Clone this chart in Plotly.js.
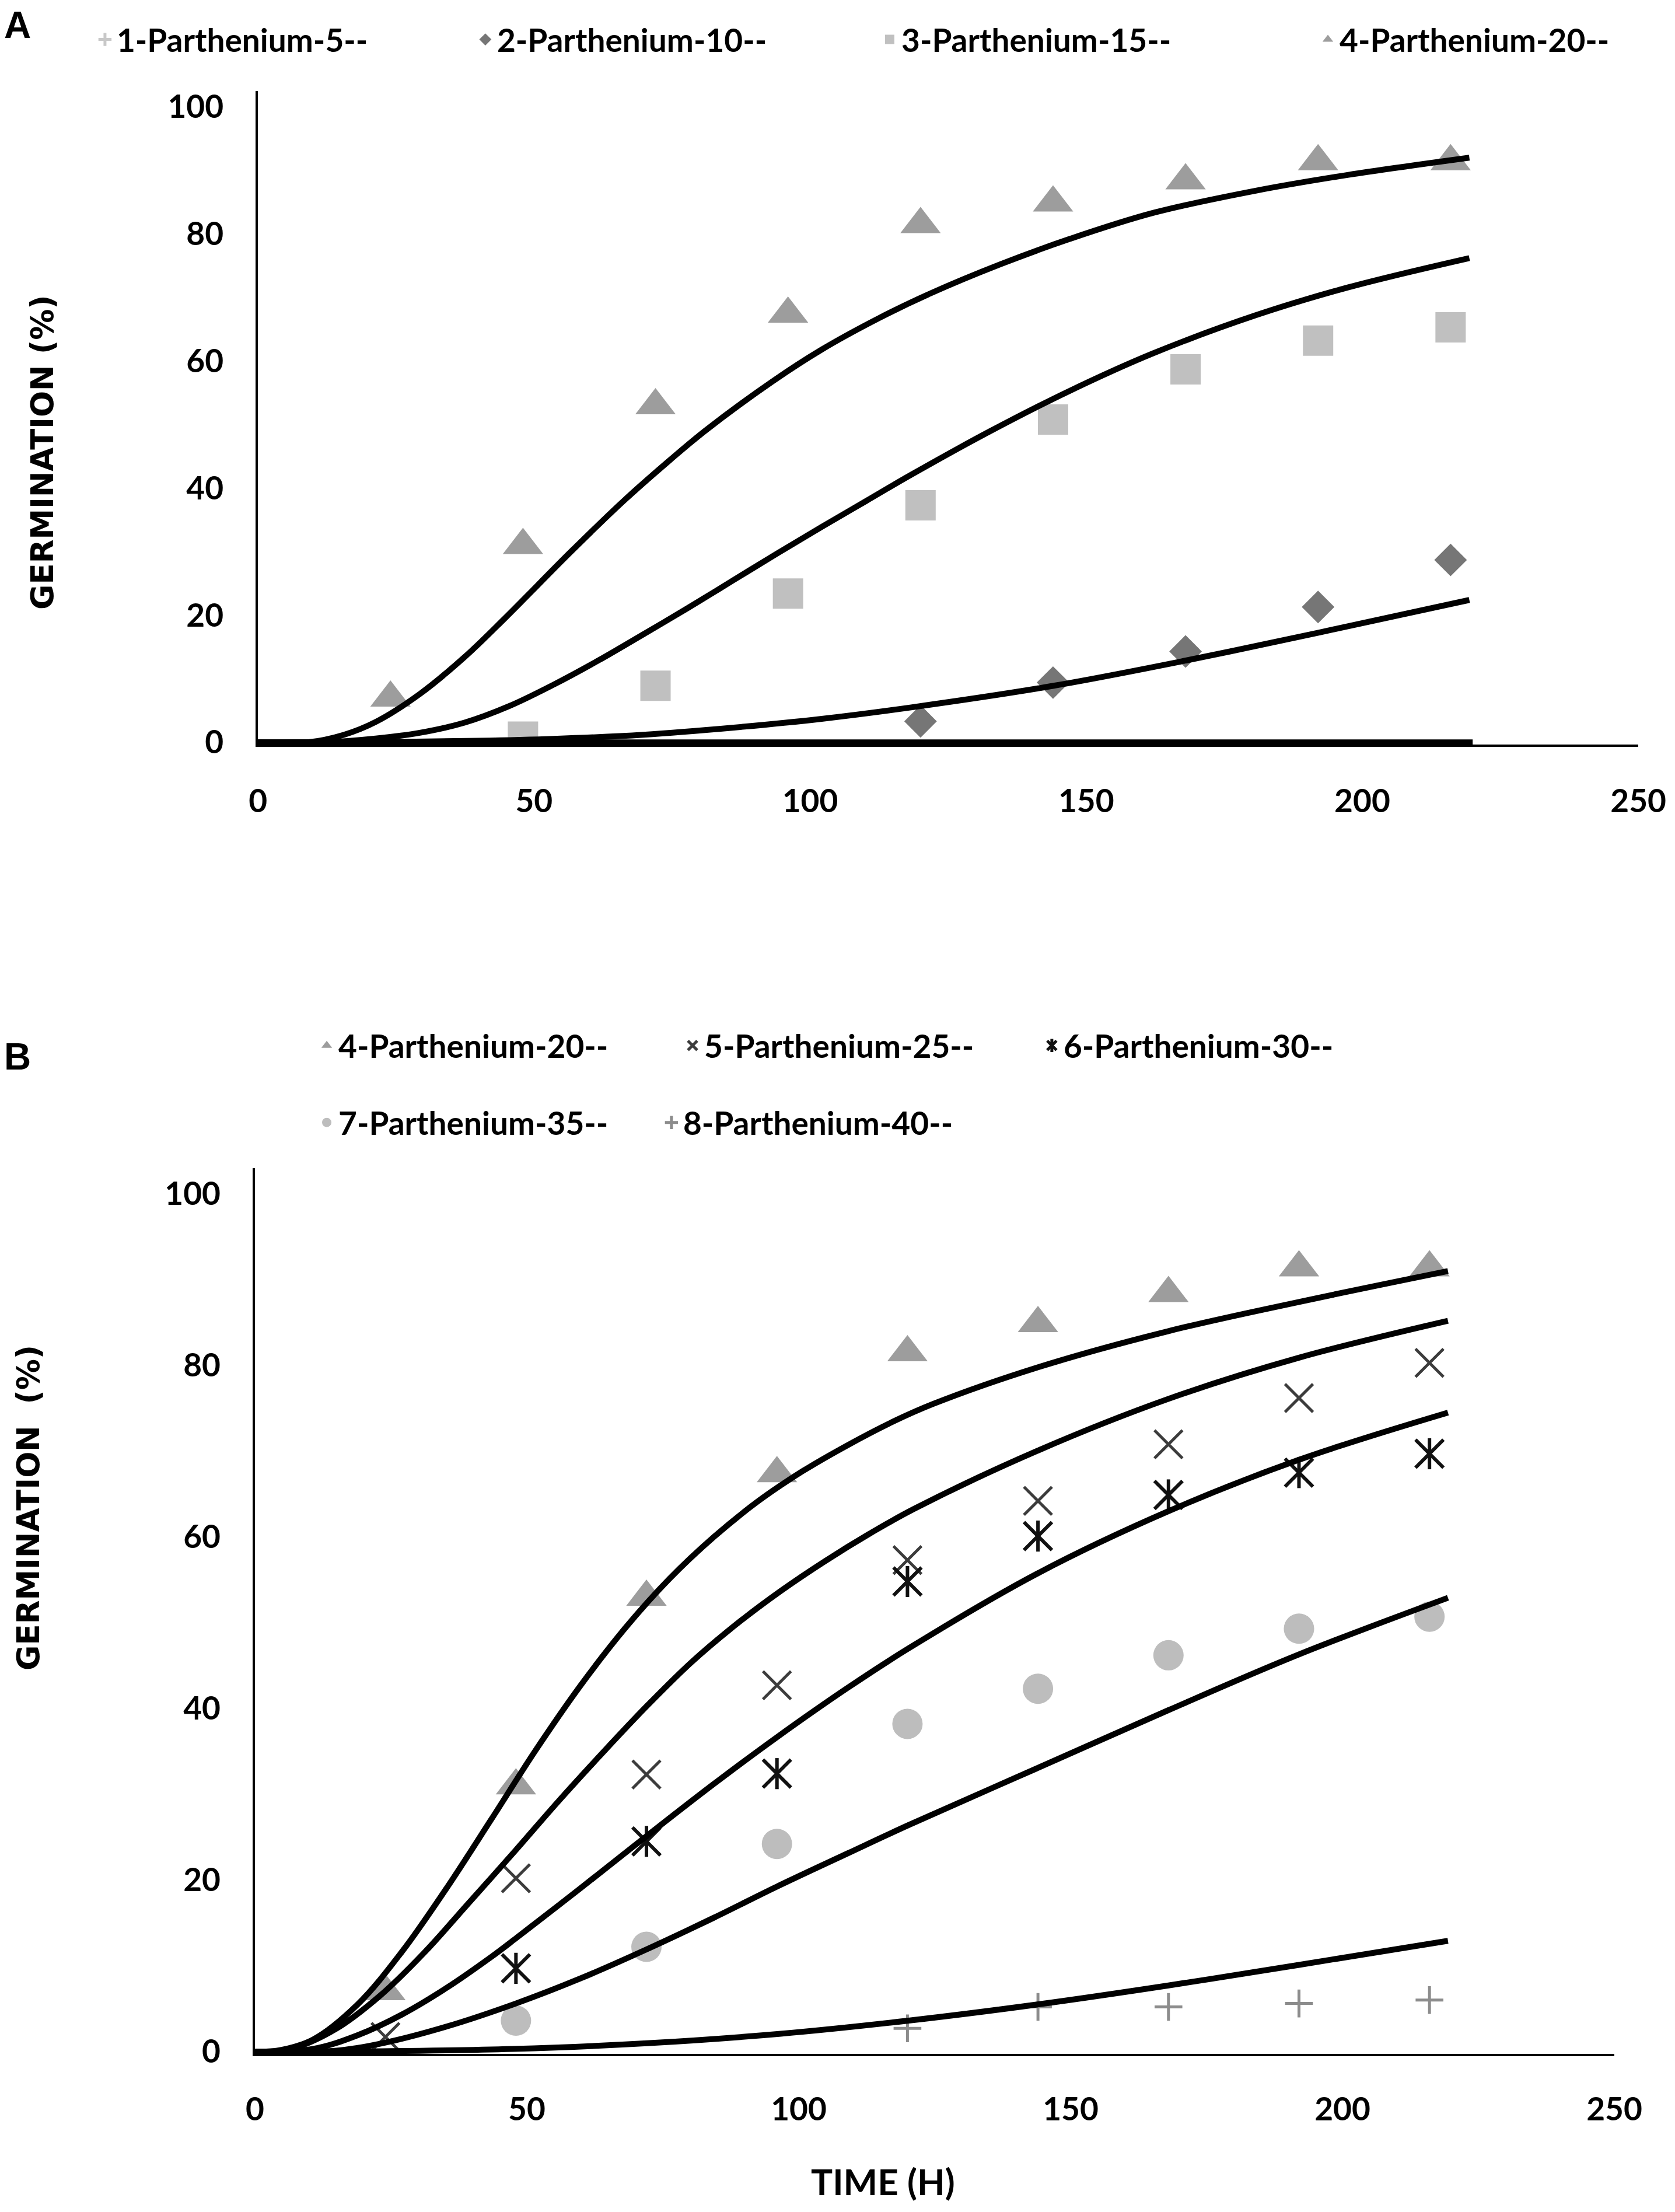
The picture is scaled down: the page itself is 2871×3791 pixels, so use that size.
<!DOCTYPE html>
<html>
<head>
<meta charset="utf-8">
<script src="https://cdn.plot.ly/plotly-3.0.1.min.js"></script>
<style>
  html, body { margin: 0; padding: 0; background: #fff; }
  #chart { width: 2871px; height: 3791px; }
</style>
</head>
<body>
<div id="chart"></div>
<script>
// sampling times (h)
var hours = [24, 48, 72, 96, 120, 144, 168, 192, 216];

// observed germination (%) -- panel A
// 5 % series has no visible points, only its legend entry
var p5Time = [null];
var p5Germ = [null];
var p10Time = [120, 144, 168, 192, 216];
var p10Germ = [3.3, 9.4, 14.3, 21.3, 28.7];
var p15Time = [48, 72, 96, 120, 144, 168, 192, 216];
var p15Germ = [0.9, 8.9, 23.4, 37.3, 50.8, 58.7, 63.2, 65.3];
var p20Germ = [7.0, 31.0, 53.0, 67.4, 81.5, 84.9, 88.4, 91.4, 91.4];

// observed germination (%) -- panel B
var p25Germ = [1.7, 20.2, 32.3, 42.7, 57.3, 64.2, 70.8, 76.2, 80.3];
var p30Time = [48, 72, 96, 120, 144, 168, 192, 216];
var p30Germ = [9.7, 24.5, 32.4, 54.8, 60.1, 64.9, 67.5, 69.7];
var p35Time = [48, 72, 96, 120, 144, 168, 192, 216];
var p35Germ = [3.6, 12.2, 24.2, 38.2, 42.3, 46.2, 49.3, 50.7];
var p40Time = [120, 144, 168, 192, 216];
var p40Germ = [2.7, 5.2, 5.2, 5.6, 6.0];

// fitted curves (time, %)
var fitA1x = [0, 220];
var fitA1y = [0, 0];
var fitA2x = [0, 20, 40, 53.6, 69.8, 85.9, 102.1, 118.3, 144.1, 168.2, 192.3, 219.4];
var fitA2y = [0, 0.05, 0.25, 0.55, 1.2, 2.3, 3.7, 5.5, 8.9, 12.9, 17.3, 22.4];
var fitA3x = [0, 12, 21.3, 29.3, 37.4, 45.5, 53.6, 61.7, 69.8, 77.8, 85.9, 94.0, 102.1, 110.2, 118.3, 132.7, 147, 162.1, 180.7, 197.5, 219.4];
var fitA3y = [0, 0, 0.6, 1.5, 3.1, 5.7, 9.1, 12.9, 17.0, 21.1, 25.4, 29.7, 33.9, 38.0, 42.1, 49.0, 55.3, 61.2, 67.2, 71.6, 76.2];
var fitA4x = [0, 9, 15.6, 21.3, 29.3, 37.4, 44.7, 56.8, 66.5, 74.6, 81.1, 93.2, 102.1, 112.6, 121.7, 134.4, 147, 162.1, 180.7, 197.5, 219.4];
var fitA4y = [0, 0, 1.2, 3.2, 7.6, 13.4, 19.5, 30.1, 38.2, 44.4, 49.1, 56.8, 61.8, 66.8, 70.6, 75.2, 79.2, 83.3, 86.8, 89.3, 92.0];

var fitB4x = [0, 4.1, 10.7, 18.9, 27.0, 35.2, 43.4, 51.6, 59.8, 68.0, 76.2, 84.4, 92.6, 100.8, 109.0, 117.2, 124.7, 144.1, 168.0, 192.0, 219.4];
var fitB4y = [0, 0.1, 1.4, 5.5, 11.6, 19.0, 27.0, 35.1, 42.6, 49.3, 55.1, 60.0, 64.2, 67.7, 70.7, 73.4, 75.5, 79.8, 84.0, 87.4, 91.0];
var fitB5x = [0, 6.6, 14.8, 23.0, 31.1, 39.3, 48.0, 55.7, 63.9, 72.1, 80.3, 88.5, 96.7, 104.9, 113.1, 121.3, 144.1, 168.0, 192.0, 219.4];
var fitB5y = [0, 0.3, 2.6, 6.5, 11.5, 17.3, 23.5, 29.1, 34.8, 40.3, 45.4, 49.8, 53.7, 57.2, 60.4, 63.3, 70.1, 76.1, 80.9, 85.2];
var fitB6x = [0, 10.7, 18.9, 27.0, 35.2, 43.4, 48.0, 59.8, 72.0, 84.4, 95.9, 109.0, 120.2, 144.1, 168.0, 192.0, 219.4];
var fitB6y = [0, 0.3, 1.9, 4.3, 7.4, 11.0, 13.2, 19.0, 25.1, 31.2, 36.6, 42.4, 47.0, 55.8, 63.0, 69.0, 74.5];
var fitB7x = [0, 15, 23.0, 35.2, 48.0, 59.8, 72.0, 84.4, 95.9, 109.0, 120.2, 144.1, 168.0, 192.0, 219.4];
var fitB7y = [0, 0.1, 0.9, 2.9, 5.6, 8.5, 11.9, 15.6, 19.2, 23.1, 26.4, 33.1, 39.8, 46.3, 52.9];
var fitB8x = [0, 25, 47.5, 72.1, 96.7, 120.2, 144.1, 168.0, 192.0, 219.4];
var fitB8y = [0, 0.05, 0.3, 0.96, 2.07, 3.6, 5.5, 7.7, 10.1, 12.9];

var font = 'Lato, "Liberation Sans", Arial, sans-serif';
var wideFont = '"DejaVu Sans", Verdana, sans-serif';

// marker trace helper
function pts(x, y, name, xa, ya, leg, marker) {
  return {
    x: x, y: y, name: name, type: 'scatter', mode: 'markers',
    xaxis: xa, yaxis: ya, legend: leg, marker: marker,
    hoverinfo: 'x+y+name'
  };
}
// fitted curve helper
function fit(x, y, xa, ya) {
  return {
    x: x, y: y, type: 'scatter', mode: 'lines', showlegend: false,
    xaxis: xa, yaxis: ya, hoverinfo: 'skip',
    line: {color: '#000', width: 10, shape: 'spline', smoothing: 1}
  };
}

var tri = {symbol: 'triangle-up', size: 60, color: '#9d9d9d'};
var sqr = {symbol: 'square', size: 52, color: '#c0c0c0'};
var dia = {symbol: 'diamond', size: 43, color: '#767676'};
var plusA = {symbol: 'cross-thin-open', size: 34, color: '#c8c8c8', line: {width: 5}};
var xm = {symbol: 'x-thin-open', size: 48, color: '#3c3c3c', line: {width: 5}};
var starX = {symbol: 'x-thin-open', size: 48, color: '#111111', line: {width: 6}};
var starBar = {symbol: 'line-ns-open', size: 38, color: '#111111', line: {width: 6}};
var circ = {symbol: 'circle', size: 52, color: '#bdbdbd'};
var plusB = {symbol: 'cross-thin-open', size: 34, color: '#8c8c8c', line: {width: 5}};

var data = [
  pts(p5Time, p5Germ, '1-Parthenium-5--', 'x', 'y', 'legend', plusA),
  pts(p10Time, p10Germ, '2-Parthenium-10--', 'x', 'y', 'legend2', dia),
  pts(p15Time, p15Germ, '3-Parthenium-15--', 'x', 'y', 'legend3', sqr),
  pts(hours, p20Germ, '4-Parthenium-20--', 'x', 'y', 'legend4', tri),
  fit(fitA1x, fitA1y, 'x', 'y'),
  fit(fitA2x, fitA2y, 'x', 'y'),
  fit(fitA3x, fitA3y, 'x', 'y'),
  fit(fitA4x, fitA4y, 'x', 'y'),

  pts(hours, p20Germ, '4-Parthenium-20--', 'x2', 'y2', 'legend5', tri),
  pts(hours, p25Germ, '5-Parthenium-25--', 'x2', 'y2', 'legend6', xm),
  pts(p30Time, p30Germ, '6-Parthenium-30--', 'x2', 'y2', 'legend7', starX),
  pts(p30Time, p30Germ, ' ', 'x2', 'y2', 'legend8', starBar),
  pts(p35Time, p35Germ, '7-Parthenium-35--', 'x2', 'y2', 'legend9', circ),
  pts(p40Time, p40Germ, '8-Parthenium-40--', 'x2', 'y2', 'legend10', plusB),
  fit(fitB4x, fitB4y, 'x2', 'y2'),
  fit(fitB5x, fitB5y, 'x2', 'y2'),
  fit(fitB6x, fitB6y, 'x2', 'y2'),
  fit(fitB7x, fitB7y, 'x2', 'y2'),
  fit(fitB8x, fitB8y, 'x2', 'y2')
];

var tickFont = {family: font, size: 55, color: '#000', weight: 'bold'};

function xAxis(domain, anchor, standoff) {
  return {
    domain: domain, anchor: anchor, range: [0, 250], dtick: 50, tick0: 0,
    showline: true, linecolor: '#000', linewidth: 4, showgrid: false, zeroline: false,
    ticks: '', ticklabelstandoff: standoff, tickfont: tickFont, fixedrange: true
  };
}
// range starts a hair below 0 so the fitted lines lying on 0 are not cut in half
function yAxis(domain, anchor, lo, hi) {
  return {
    domain: domain, anchor: anchor, range: [lo, hi], tickvals: [0, 20, 40, 60, 80, 100],
    showline: true, linecolor: '#000', linewidth: 4, showgrid: false, zeroline: false,
    ticks: '', ticklabelstandoff: 44, tickfont: tickFont, fixedrange: true
  };
}
function leg(x, y) {
  return {
    x: x, y: y, xanchor: 'left', yanchor: 'middle', orientation: 'h',
    bgcolor: 'rgba(0,0,0,0)', borderwidth: 0, itemwidth: 30,
    font: {family: font, size: 55, color: '#000', weight: 'bold'}
  };
}
function label(text, x, y, angle, f) {
  return {text: text, xref: 'paper', yref: 'paper', x: x, y: y, textangle: angle,
    xanchor: 'center', yanchor: 'middle', showarrow: false, font: f};
}

var titleFont = {family: wideFont, size: 53, color: '#000', weight: 'bold'};
var panelFont = {family: '"Liberation Sans", Arial, sans-serif', size: 64, color: '#000', weight: 'bold'};

var layout = {
  width: 2871, height: 3791,
  margin: {l: 0, r: 0, t: 0, b: 0},
  paper_bgcolor: '#fff', plot_bgcolor: '#fff',
  font: {family: font},
  xaxis: xAxis([0.1540, 0.9781], 'y', 46),
  yaxis: yAxis([0.6634, 0.9589], 'x', -0.35, 102.5),
  xaxis2: xAxis([0.1522, 0.9638], 'y2', 44),
  yaxis2: yAxis([0.0714, 0.4719], 'x2', -0.3, 103),
  legend: leg(0.0557, 0.9821),
  legend2: leg(0.2828, 0.9821),
  legend3: leg(0.5242, 0.9821),
  legend4: leg(0.7858, 0.9821),
  legend5: leg(0.1881, 0.5273),
  legend6: leg(0.4065, 0.5273),
  legend7: leg(0.6210, 0.5273),
  legend8: leg(0.6210, 0.5273),
  legend9: leg(0.1881, 0.4925),
  legend10: leg(0.3939, 0.4925),
  annotations: [
    label('A', 0.0105, 1 - 43 / 3791, 0, panelFont),
    label('B', 0.0105, 1 - 1811 / 3791, 0, panelFont),
    label('GERMINATION (%)', 0.0251, 1 - 775 / 3791, -90, titleFont),
    label('GERMINATION\u00a0 (%)', 0.0167, 1 - 2584 / 3791, -90, titleFont),
    label('TIME (H)', 0.5273, 1 - 3738 / 3791, 0, {family: font, size: 62, color: '#000', weight: 'bold'})
  ],
  showlegend: true
};

Plotly.newPlot('chart', data, layout, {displayModeBar: false, responsive: false});
</script>
</body>
</html>
